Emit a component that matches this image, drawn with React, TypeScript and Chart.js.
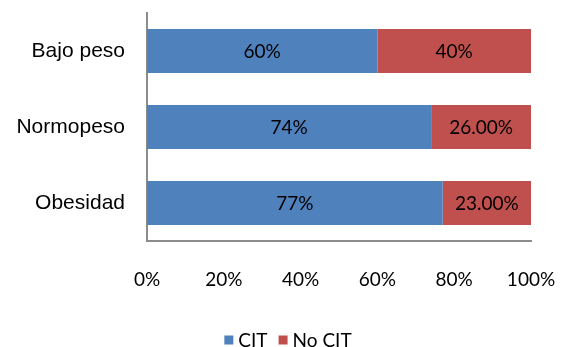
import React, { useEffect, useRef } from "react";
import { Chart, registerables } from "chart.js";

Chart.register(...registerables);

const categories = ["Bajo peso", "Normopeso", "Obesidad"];
const seriesNames = ["CIT", "No CIT"];
const citValues = [0.6, 0.74, 0.77];
const noCitValues = [0.4, 0.26, 0.23];
const citLabels = ["60%", "74%", "77%"];
const noCitLabels = ["40%", "26.00%", "23.00%"];
const seriesColors = ["#4F81BD", "#C0504D"];
const xTickStep = 0.2;

const valueFont = "Lato";
const catFont = "Liberation Sans";

const dataLabelPlugin = {
  id: "dataLabels",
  afterDatasetsDraw(chart: any) {
    const ctx = chart.ctx;
    ctx.save();
    ctx.font = `19px ${valueFont}`;
    ctx.fillStyle = "#000";
    ctx.textAlign = "center";
    ctx.textBaseline = "middle";
    chart.data.datasets.forEach((ds: any, di: number) => {
      const meta = chart.getDatasetMeta(di);
      meta.data.forEach((bar: any, i: number) => {
        const label = ds.labelsText[i];
        const cx = (bar.x + bar.base) / 2;
        ctx.fillText(label, cx, bar.y + 1);
      });
    });
    ctx.restore();
  },
};

const legendPlugin = {
  id: "customLegend",
  afterDraw(chart: any) {
    const ctx = chart.ctx;
    ctx.save();
    ctx.font = `19px ${valueFont}`;
    ctx.textBaseline = "middle";
    const box = 9;
    const gapBoxText = 5;
    const gapItems = 11;
    const items = chart.data.datasets.map((ds: any) => ({
      text: ds.label,
      color: ds.backgroundColor,
      w: box + gapBoxText + ctx.measureText(ds.label).width,
    }));
    const total = items.reduce((s: number, it: any) => s + it.w, 0) + gapItems * (items.length - 1);
    let x = chart.width / 2 - total / 2 + 6;
    const y = chart.chartArea.bottom + 99;
    items.forEach((it: any) => {
      ctx.fillStyle = it.color;
      ctx.fillRect(x, y - box / 2, box, box);
      ctx.fillStyle = "#000";
      ctx.textAlign = "left";
      ctx.fillText(it.text, x + box + gapBoxText, y + 1);
      x += it.w + gapItems;
    });
    ctx.restore();
  },
};

export default function App() {
  const ref = useRef<HTMLCanvasElement | null>(null);
  useEffect(() => {
    if (!ref.current) return;
    const chart = new Chart(ref.current, {
      type: "bar",
      data: {
        labels: categories,
        datasets: [
          {
            label: seriesNames[0],
            data: citValues,
            backgroundColor: seriesColors[0],
            labelsText: citLabels,
            barPercentage: 0.58,
            categoryPercentage: 1,
          } as any,
          {
            label: seriesNames[1],
            data: noCitValues,
            backgroundColor: seriesColors[1],
            labelsText: noCitLabels,
            barPercentage: 0.58,
            categoryPercentage: 1,
          } as any,
        ],
      },
      options: {
        indexAxis: "y",
        animation: false,
        responsive: false,
        maintainAspectRatio: false,
        layout: { padding: { top: 13, right: 33, bottom: 0, left: 0 } },
        plugins: {
          legend: { display: false },
          tooltip: { enabled: false },
        },
        scales: {
          x: {
            stacked: true,
            min: 0,
            max: 1,
            grid: { display: false, drawTicks: false },
            border: { display: true, color: "#8c8c8c", width: 2 },
            ticks: {
              stepSize: xTickStep,
              padding: 27,
              color: "#000",
              font: { family: valueFont, size: 19 },
              callback: (v: any) => Math.round(Number(v) * 100) + "%",
              maxRotation: 0,
            },
            afterFit: (scale: any) => {
              scale.height = 106;
              scale.paddingLeft = 0;
              scale.paddingRight = 0;
            },
          },
          y: {
            stacked: true,
            grid: { display: false, drawTicks: false },
            border: { display: true, color: "#8c8c8c", width: 2 },
            ticks: {
              padding: 22,
              color: "#000",
              font: { family: catFont, size: 21 },
            },
            afterFit: (scale: any) => {
              scale.width = 147;
              scale.paddingTop = 0;
              scale.paddingBottom = 0;
            },
          },
        },
      },
      plugins: [dataLabelPlugin, legendPlugin],
    });
    return () => chart.destroy();
  }, []);
  return (
    <div style={{ position: "fixed", left: 0, top: 0, width: 564, height: 347, background: "#fff" }}>
      <canvas ref={ref} width={564} height={347} style={{ width: 564, height: 347 }} />
    </div>
  );
}
